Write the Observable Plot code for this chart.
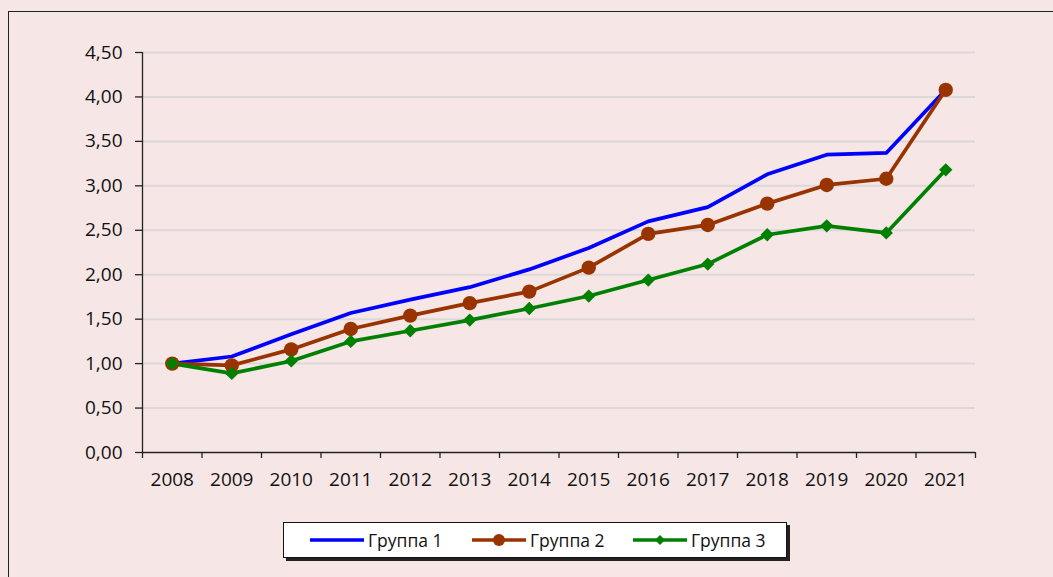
<!DOCTYPE html>
<html><head><meta charset="utf-8">
<script src="https://cdn.jsdelivr.net/npm/d3@7"></script>
<script src="https://cdn.jsdelivr.net/npm/@observablehq/plot@0.6"></script>
<style>
html,body{margin:0;padding:0;}
#wrap{position:relative;width:1053px;height:577px;overflow:hidden;background:#F6E7E6;font-family:"Open Sans",sans-serif;}
#frame{position:absolute;left:8px;top:11px;width:1100px;height:700px;border:1px solid #222;box-sizing:border-box;}
#chart{position:absolute;left:0;top:0;}
#legend{position:absolute;left:283px;top:522px;width:504px;height:36px;background:#fff;border:1px solid #111;box-sizing:border-box;box-shadow:3px 3px 0 #222;font-size:17.5px;color:#111;}
.item{position:absolute;top:0;height:34px;display:flex;align-items:center;}
</style></head>
<body><div id="wrap"><div id="frame"></div><div id="chart"></div><div id="legend"></div></div>
<script>
const years = [2008,2009,2010,2011,2012,2013,2014,2015,2016,2017,2018,2019,2020,2021];
const seriesNames = ["Группа 1","Группа 2","Группа 3"];
const seriesColors = ["#0000FF","#993300","#008000"];
const group1 = [1.00,1.08,1.33,1.57,1.72,1.86,2.06,2.30,2.60,2.76,3.13,3.35,3.37,4.08];
const group2 = [1.00,0.98,1.16,1.39,1.54,1.68,1.81,2.08,2.46,2.56,2.80,3.01,3.08,4.08];
const group3 = [1.00,0.89,1.03,1.25,1.37,1.49,1.62,1.76,1.94,2.12,2.45,2.55,2.47,3.18];
const yTicks = [0,0.5,1,1.5,2,2.5,3,3.5,4,4.5];

const allSeries = [group1, group2, group3];
const data = [];
allSeries.forEach((vals, i) => vals.forEach((v, j) => data.push({year: years[j], value: v, series: seriesNames[i]})));
const bounds = years.map(y => y - 0.5).concat([years[years.length-1] + 0.5]);

const chart = Plot.plot({
  width: 1053, height: 505,
  marginLeft: 142, marginRight: 78, marginTop: 52, marginBottom: 53,
  style: {background: "transparent", fontFamily: "Open Sans", fontSize: "19px", color: "#111"},
  x: {type: "linear", domain: [bounds[0], bounds[bounds.length-1]]},
  y: {domain: [0, 4.5]},
  color: {domain: seriesNames, range: seriesColors},
  marks: [
    Plot.ruleY(yTicks.filter(d => d > 0), {stroke: "#dcd8d9", strokeWidth: 2}),
    Plot.axisY({ticks: yTicks, tickSize: 7, tickPadding: 13, label: null, fontSize: 19, tickFormat: d => d.toFixed(2).replace(".", ","), stroke: "#222", strokeWidth: 1.3}),
    Plot.axisX({ticks: years, tickSize: 0, tickPadding: 20, label: null, fontSize: 19, tickFormat: d => String(d)}),
    Plot.axisX({ticks: bounds, tickSize: 6, label: null, tickFormat: () => "", stroke: "#222", strokeWidth: 1.3}),
    Plot.ruleY([0], {stroke: "#222", strokeWidth: 1.3}),
    Plot.ruleX([bounds[0]], {stroke: "#222", strokeWidth: 1.3}),
    Plot.line(data, {x: "year", y: "value", z: "series", stroke: "series", strokeWidth: 3.7}),
    Plot.dot(data.filter(d => d.series === seriesNames[1]), {x: "year", y: "value", r: 7.2, fill: seriesColors[1], stroke: null}),
    Plot.dot(data.filter(d => d.series === seriesNames[2]), {x: "year", y: "value", r: 6, symbol: "diamond2", fill: seriesColors[2], stroke: null})
  ]
});
document.getElementById("chart").appendChild(chart);

// Legend
const legend = document.getElementById("legend");
const itemLefts = [26, 188, 349];
seriesNames.forEach((name, i) => {
  const it = document.createElement("div");
  it.className = "item";
  it.style.left = itemLefts[i] + "px";
  let marker = "";
  if (i === 1) marker = `<circle cx="27" cy="9" r="6" fill="${seriesColors[i]}"/>`;
  if (i === 2) marker = `<path d="M27 4 L32 9 L27 14 L22 9 Z" fill="${seriesColors[i]}"/>`;
  it.innerHTML = `<svg width="54" height="18"><line x1="0" x2="54" y1="9" y2="9" stroke="${seriesColors[i]}" stroke-width="3.5"/>${marker}</svg><span style="margin-left:4px">${name}</span>`;
  legend.appendChild(it);
});
</script></body></html>
